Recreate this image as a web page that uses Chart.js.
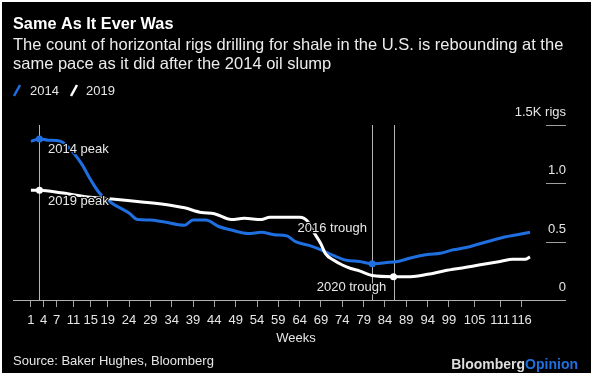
<!DOCTYPE html>
<html>
<head>
<meta charset="utf-8">
<script src="https://cdn.jsdelivr.net/npm/chart.js@4"></script>
<style>
  html, body { margin: 0; padding: 0; background: #fff; }
  #wrap { position: relative; width: 595px; height: 377px; }
</style>
</head>
<body>
<div id="wrap"><canvas id="rigs-chart" width="595" height="377"></canvas></div>
<script>
// weekly horizontal shale rig counts, thousands of rigs
const weeks2014 = [1, 3, 5, 8, 11, 13, 15, 17, 20, 24, 26, 29, 32, 37, 39, 42, 45, 48, 52, 55, 58, 61, 63, 66, 69, 72, 75, 78, 81, 84, 87, 90, 94, 97, 100, 103, 106, 109, 112, 115, 118];
const rigs2014 = [1.36, 1.38, 1.37, 1.36, 1.26, 1.16, 1.03, 0.92, 0.83, 0.745, 0.69, 0.685, 0.67, 0.64, 0.685, 0.685, 0.63, 0.60, 0.57, 0.58, 0.56, 0.55, 0.50, 0.47, 0.43, 0.38, 0.34, 0.33, 0.31, 0.32, 0.33, 0.36, 0.39, 0.40, 0.43, 0.45, 0.48, 0.51, 0.54, 0.56, 0.58];

const weeks2019 = [1, 3, 8, 15, 20, 27, 34, 37, 41, 44, 48, 51, 55, 57, 64, 66, 67, 69, 70, 72, 74, 76, 78, 81, 86, 90, 94, 98, 103, 106, 111, 114, 117, 118];
const rigs2019 = [0.94, 0.94, 0.92, 0.88, 0.865, 0.84, 0.81, 0.79, 0.75, 0.74, 0.69, 0.70, 0.69, 0.71, 0.71, 0.67, 0.60, 0.48, 0.40, 0.34, 0.30, 0.27, 0.25, 0.21, 0.20, 0.20, 0.22, 0.25, 0.28, 0.30, 0.33, 0.35, 0.35, 0.37];

const dots2014 = [3, 81];   // 2014 peak, 2016 trough
const dots2019 = [3, 86];   // 2019 peak, 2020 trough
const markerWeeks = [3, 81, 86];

const xTicks = [1, 4, 7, 11, 15, 19, 24, 29, 34, 39, 44, 49, 54, 59, 64, 69, 74, 79, 84, 89, 94, 99, 105, 111, 116];
const yTicks = [0, 0.5, 1.0, 1.5];
const yTickLabels = ['0', '0.5', '1.0', '1.5K rigs'];

const notes = [
    { text: '2014 peak', week: 5, value: 1.29 },
    { text: '2019 peak', week: 5, value: 0.845 },
    { text: '2016 trough', week: 63.5, value: 0.61 },
    { text: '2020 trough', week: 68, value: 0.11 }
];

const BLUE = '#1f6fe0';
const FONT = "'Liberation Sans', Arial, sans-serif";
Chart.defaults.font.family = FONT;

function toPoints(weeks, values) {
    return weeks.map((w, i) => ({ x: w, y: values[i] }));
}

const decorPlugin = {
    id: 'decor',
    beforeDraw(chart) {
        const ctx = chart.ctx;
        ctx.save();
        ctx.fillStyle = '#fff';
        ctx.fillRect(0, 0, chart.width, chart.height);
        ctx.fillStyle = '#000';
        ctx.fillRect(2, 2, 589, 371);
        ctx.restore();
    },
    beforeDatasetsDraw(chart) {
        const ctx = chart.ctx;
        const x = chart.scales.x, y = chart.scales.y;
        ctx.save();
        ctx.strokeStyle = '#b5b5b5';
        ctx.lineWidth = 1;
        markerWeeks.forEach(w => {
            const px = Math.round(x.getPixelForValue(w)) + 0.5;
            ctx.beginPath();
            ctx.moveTo(px, y.getPixelForValue(1.5));
            ctx.lineTo(px, y.getPixelForValue(0));
            ctx.stroke();
        });
        ctx.restore();
    },
    afterDatasetsDraw(chart) {
        const ctx = chart.ctx;
        const x = chart.scales.x, y = chart.scales.y;
        ctx.save();
        ctx.font = '13px ' + FONT;
        ctx.textBaseline = 'middle';
        ctx.textAlign = 'left';
        ctx.lineJoin = 'round';
        notes.forEach(n => {
            const px = x.getPixelForValue(n.week);
            const py = y.getPixelForValue(n.value);
            ctx.strokeStyle = '#000';
            ctx.lineWidth = 2.5;
            ctx.strokeText(n.text, px, py);
            ctx.fillStyle = '#e8e8e8';
            ctx.fillText(n.text, px, py);
        });
        ctx.restore();
    },
    afterDraw(chart) {
        const ctx = chart.ctx;
        const y = chart.scales.y;
        const right = chart.chartArea.right;
        ctx.save();
        // right-hand value stubs and labels
        ctx.font = '13px ' + FONT;
        ctx.textAlign = 'right';
        ctx.textBaseline = 'middle';
        yTicks.forEach((v, i) => {
            const py = Math.round(y.getPixelForValue(v)) + 0.5;
            if (v > 0) {
                ctx.strokeStyle = '#a0a0a0';
                ctx.lineWidth = 1;
                ctx.beginPath();
                ctx.moveTo(right - 19, py);
                ctx.lineTo(right + 1, py);
                ctx.stroke();
            }
            ctx.fillStyle = '#e6e6e6';
            ctx.fillText(yTickLabels[i], right + 1, py - 13);
        });

        // heading
        ctx.textAlign = 'left';
        ctx.fillStyle = '#fff';
        ctx.font = 'bold 16.3px ' + FONT;
        ctx.fillText('Same As It Ever Was', 13, 25);
        ctx.fillStyle = '#ececec';
        ctx.font = '16.5px ' + FONT;
        ctx.fillText('The count of horizontal rigs drilling for shale in the U.S. is rebounding at the', 13, 45);
        ctx.fillText('same pace as it did after the 2014 oil slump', 13, 64);

        // legend
        ctx.lineWidth = 2.5;
        ctx.lineCap = 'butt';
        ctx.strokeStyle = BLUE;
        ctx.beginPath(); ctx.moveTo(14, 96); ctx.lineTo(20, 85); ctx.stroke();
        ctx.strokeStyle = '#fff';
        ctx.beginPath(); ctx.moveTo(71, 96); ctx.lineTo(77, 85); ctx.stroke();
        ctx.font = '13px ' + FONT;
        ctx.fillStyle = '#e6e6e6';
        ctx.fillText('2014', 30, 91);
        ctx.fillText('2019', 86, 91);

        // axis title and footer
        ctx.textAlign = 'center';
        ctx.fillText('Weeks', 296, 338);
        ctx.textAlign = 'left';
        ctx.fillText('Source: Baker Hughes, Bloomberg', 13, 361);
        ctx.font = 'bold 14px ' + FONT;
        const w1 = ctx.measureText('Bloomberg').width;
        const w2 = ctx.measureText('Opinion').width;
        const start = 578 - w1 - w2;
        ctx.fillStyle = '#dedede';
        ctx.fillText('Bloomberg', start, 365);
        ctx.fillStyle = BLUE;
        ctx.fillText('Opinion', start + w1, 365);
        ctx.restore();
    }
};

const pointSize = (dots) => (c) => (c.raw && dots.includes(c.raw.x) ? 3.5 : 0);

new Chart(document.getElementById('rigs-chart').getContext('2d'), {
    type: 'line',
    data: {
        datasets: [{
            label: '2019',
            data: toPoints(weeks2019, rigs2019),
            borderColor: '#ffffff',
            backgroundColor: '#ffffff',
            borderWidth: 3,
            cubicInterpolationMode: 'monotone',
            pointRadius: pointSize(dots2019),
            pointBorderWidth: 0
        }, {
            label: '2014',
            data: toPoints(weeks2014, rigs2014),
            borderColor: BLUE,
            backgroundColor: BLUE,
            borderWidth: 3,
            cubicInterpolationMode: 'monotone',
            pointRadius: pointSize(dots2014),
            pointBorderWidth: 0
        }]
    },
    options: {
        responsive: false,
        animation: false,
        layout: {
            padding: { left: 13, right: 30, top: 125, bottom: 37 }
        },
        scales: {
            x: {
                type: 'linear',
                min: -3.2,
                max: 126.2,
                afterBuildTicks: (scale) => {
                    scale.ticks = xTicks.map(v => ({ value: v }));
                },
                afterFit: (scale) => {
                    scale.height = 40;
                },
                ticks: {
                    autoSkip: false,
                    maxRotation: 0,
                    color: '#e6e6e6',
                    font: { size: 13 },
                    padding: 6,
                    callback: (v) => String(v)
                },
                grid: {
                    drawOnChartArea: false,
                    drawTicks: true,
                    tickLength: 7,
                    color: '#a0a0a0'
                },
                border: {
                    display: true,
                    color: '#b0b0b0',
                    width: 1
                }
            },
            y: {
                display: false,
                min: 0,
                max: 1.5
            }
        },
        plugins: {
            legend: { display: false },
            tooltip: { enabled: false }
        }
    },
    plugins: [decorPlugin]
});
</script>
</body>
</html>
